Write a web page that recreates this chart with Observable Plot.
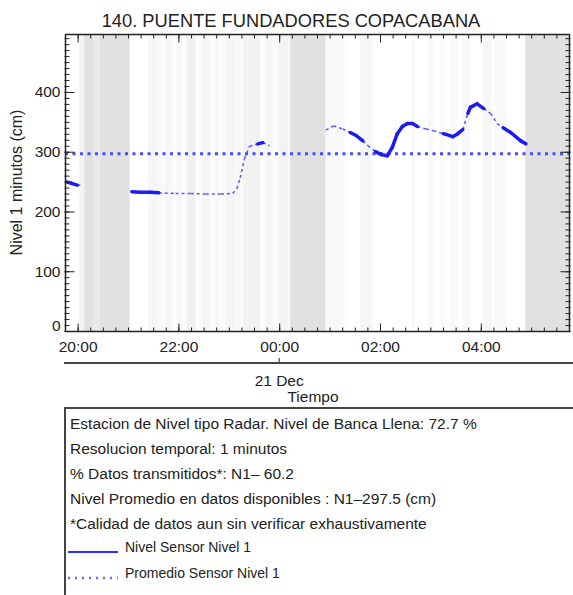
<!DOCTYPE html>
<html><head><meta charset="utf-8">
<script src="https://cdn.jsdelivr.net/npm/d3@7"></script>
<script src="https://cdn.jsdelivr.net/npm/@observablehq/plot@0.6"></script>
<style>
body{margin:0;background:#fff;font-family:"Liberation Sans",Arial,Helvetica,sans-serif;}
#wrap{position:relative;width:573px;height:595px;overflow:hidden;background:#fff;}
#chart{position:absolute;left:0;top:0;}
#legend{position:absolute;left:0;top:0;}
</style></head><body>
<div id="wrap"><div id="chart"></div><svg id="legend" width="573" height="595"></svg></div>
<script>
const titleText = "140. PUENTE FUNDADORES COPACABANA";
const yLabel = "Nivel 1 minutos (cm)";
const xTitle = "Tiempo";
const dateLabel = "21 Dec";
const dateTick = "2023-12-21 00:00";
const xDomain = ["2023-12-20 19:45", "2023-12-21 05:45"];
const yDomain = [0, 497];
const yTickValues = [0, 100, 200, 300, 400];
const xTickTimes = ["2023-12-20 20:00", "2023-12-20 22:00", "2023-12-21 00:00", "2023-12-21 02:00", "2023-12-21 04:00"];
const avgLevel = 297.5;

// observed level (cm); density: 2 = continuous data, 1 = sparse data, 0 = gap follows
const obsTime = [
  "2023-12-20 19:47","2023-12-20 19:52","2023-12-20 19:59","2023-12-20 20:05",
  "2023-12-20 21:04","2023-12-20 21:14","2023-12-20 21:26","2023-12-20 21:36","2023-12-20 21:56",
  "2023-12-20 22:14","2023-12-20 22:32","2023-12-20 22:50","2023-12-20 23:04","2023-12-20 23:09",
  "2023-12-20 23:13","2023-12-20 23:18","2023-12-20 23:24","2023-12-20 23:34","2023-12-20 23:40","2023-12-20 23:48",
  "2023-12-21 00:55","2023-12-21 01:04","2023-12-21 01:15","2023-12-21 01:24","2023-12-21 01:31",
  "2023-12-21 01:39","2023-12-21 01:45","2023-12-21 01:54","2023-12-21 02:01","2023-12-21 02:08",
  "2023-12-21 02:14","2023-12-21 02:20","2023-12-21 02:26","2023-12-21 02:32","2023-12-21 02:38",
  "2023-12-21 02:44","2023-12-21 02:54","2023-12-21 03:03","2023-12-21 03:15","2023-12-21 03:26",
  "2023-12-21 03:32","2023-12-21 03:38","2023-12-21 03:44","2023-12-21 03:47","2023-12-21 03:55",
  "2023-12-21 04:03","2023-12-21 04:11","2023-12-21 04:19","2023-12-21 04:26","2023-12-21 04:35",
  "2023-12-21 04:47","2023-12-21 04:53"
];
const obsLevel = [
  250,248,245,245,
  234,233,233,232,231,
  231,230,230,231,239,
  257,289,310,314,316,311,
  337,344,339,333,328,
  319,311,301,296,294,
  308,331,343,348,348,
  343,339,336,331,326,
  331,338,365,375,381,
  373,365,348,341,333,
  319,314
];
const obsDensity = [
  2,2,1,0,
  2,2,2,1,1,
  1,1,1,1,1,
  1,1,1,2,1,0,
  1,1,1,2,2,
  1,1,2,2,2,
  2,2,2,2,2,
  1,1,1,2,2,
  2,1,2,2,2,
  1,1,1,2,2,
  2,0
];

// periods with missing transmissions; frac = share of minutes missing
const gapStart = [
  "2023-12-20 20:08","2023-12-20 20:19","2023-12-20 20:26","2023-12-21 00:13","2023-12-21 04:53",
  "2023-12-20 20:02","2023-12-20 21:24","2023-12-20 21:24","2023-12-20 21:37","2023-12-20 21:44",
  "2023-12-20 21:58","2023-12-20 22:10","2023-12-20 22:28","2023-12-20 22:44","2023-12-20 22:56",
  "2023-12-20 23:06","2023-12-20 23:17","2023-12-20 23:43","2023-12-20 23:59","2023-12-21 00:55",
  "2023-12-21 01:12","2023-12-21 01:36","2023-12-21 02:38","2023-12-21 02:57","2023-12-21 03:11",
  "2023-12-21 03:23","2023-12-21 03:38","2023-12-21 04:03","2023-12-21 04:15","2023-12-21 04:23"
];
const gapEnd = [
  "2023-12-20 20:19","2023-12-20 20:26","2023-12-20 21:02","2023-12-21 00:55","2023-12-21 05:45",
  "2023-12-20 20:08","2023-12-21 00:13","2023-12-20 21:36","2023-12-20 21:41","2023-12-20 21:52",
  "2023-12-20 22:04","2023-12-20 22:20","2023-12-20 22:37","2023-12-20 22:48","2023-12-20 23:06",
  "2023-12-20 23:14","2023-12-20 23:37","2023-12-20 23:52","2023-12-21 00:11","2023-12-21 01:13",
  "2023-12-21 01:18","2023-12-21 01:51","2023-12-21 02:42","2023-12-21 03:03","2023-12-21 03:17",
  "2023-12-21 03:32","2023-12-21 03:47","2023-12-21 04:13","2023-12-21 04:23","2023-12-21 04:31"
];
const gapFrac = [
  1,0.75,1,1,1,
  0.4,0.12,0.3,0.25,0.35,
  0.3,0.5,0.35,0.3,0.35,
  0.25,0.45,0.3,0.4,0.25,
  0.2,0.3,0.2,0.25,0.2,
  0.2,0.25,0.3,0.2,0.2
];

const infoLines = [
  "Estacion de Nivel tipo Radar. Nivel de Banca Llena: 72.7 %",
  "Resolucion temporal: 1 minutos",
  "% Datos transmitidos*: N1\u2013 60.2",
  "Nivel Promedio en datos disponibles : N1\u2013297.5 (cm)",
  "*Calidad de datos aun sin verificar exhaustivamente"
];
const legendLabels = ["Nivel Sensor Nivel 1", "Promedio Sensor Nivel 1"];

const FONT = "'Liberation Sans', Arial, Helvetica, sans-serif";
const parse = d3.utcParse("%Y-%m-%d %H:%M");
const obs = obsTime.map((t, i) => ({t: parse(t), v: obsLevel[i], d: obsDensity[i]}));
const segs = [];
for (let i = 0; i < obs.length - 1; i++) {
  if (obs[i].d > 0) segs.push({t1: obs[i].t, v1: obs[i].v, t2: obs[i + 1].t, v2: obs[i + 1].v, d: obs[i].d});
}
const grayOf = d3.interpolateRgb("#ffffff", "#e1e1e1");
const gaps = gapStart.map((s, i) => ({s: parse(s), e: parse(gapEnd[i]), f: gapFrac[i]}))
  .sort((a, b) => a.f - b.f);
const xTicks = xTickTimes.map(parse);
const minor15 = d3.utcMinute.every(15);
const major2h = d3.utcHour.every(2);
const yMinor = d3.range(yDomain[0], yDomain[1], 10);
const yMajor = yTickValues;

// inward-pointing ticks (Plot's axis ticks shifted inside the frame)
const inX = (anchor, ticks, len) => Plot.axisX({anchor, ticks, tickSize: len, fill: "none", label: null, stroke: "#222",
  dy: anchor === "bottom" ? -len + 0.5 : len - 0.5});
const inY = (anchor, ticks, len) => Plot.axisY({anchor, ticks, tickSize: len, fill: "none", label: null, stroke: "#222",
  dx: anchor === "left" ? len - 0.5 : -len + 0.5});

const chart = Plot.plot({
  width: 573,
  height: 408,
  marginLeft: 65,
  marginRight: 4,
  marginTop: 34,
  marginBottom: 77,
  style: {fontFamily: FONT, color: "#222", background: "transparent", overflow: "visible"},
  x: {type: "utc", domain: xDomain.map(parse)},
  y: {domain: yDomain},
  marks: [
    Plot.rect(gaps, {x1: "s", x2: "e", y1: yDomain[0], y2: yDomain[1], fill: d => grayOf(d.f)}),
    Plot.ruleY([avgLevel], {stroke: "#4a4aff", strokeWidth: 3, strokeDasharray: "3,4.5"}),
    Plot.link(segs.filter(s => s.d === 1), {x1: "t1", y1: "v1", x2: "t2", y2: "v2", stroke: "#5c5cff", strokeWidth: 1.6, strokeDasharray: "3,3"}),
    Plot.link(segs.filter(s => s.d === 2), {x1: "t1", y1: "v1", x2: "t2", y2: "v2", stroke: "#1c1cf2", strokeWidth: 3.5, strokeLinecap: "round"}),
    Plot.frame({stroke: "#222", strokeWidth: 1.5}),
    inX("bottom", minor15, 4),
    inX("bottom", major2h, 8),
    inX("top", minor15, 4),
    inX("top", major2h, 8),
    inY("left", yMinor, 5),
    inY("left", yMajor, 10),
    inY("right", yMinor, 5),
    inY("right", yMajor, 10),
    Plot.axisX(xTicks, {tickSize: 0, tickPadding: 9, tickFormat: d3.utcFormat("%H:%M"), fontSize: 15.5, label: null, fill: "#222"}),
    Plot.axisY(yMajor.filter(v => v > 0), {tickSize: 0, tickPadding: 5, fontSize: 15.5, label: null, fill: "#222"}),
    Plot.axisY(yMajor.filter(v => v === 0), {tickSize: 0, tickPadding: 5, fontSize: 15.5, label: null, fill: "#222", dy: -5})
  ]
});
document.getElementById("chart").appendChild(chart);

const xs = chart.scale("x");
const svg = d3.select(chart);
svg.append("text").attr("x", 291).attr("y", 26.5).attr("text-anchor", "middle")
  .attr("font-size", 18.3).attr("fill", "#222").text(titleText);
svg.append("text").attr("transform", "translate(21.5,182.5) rotate(-90)").attr("text-anchor", "middle")
  .attr("font-size", 16).attr("fill", "#222").text(yLabel);
svg.append("line").attr("x1", 64).attr("x2", 573).attr("y1", 363).attr("y2", 363)
  .attr("stroke", "#444").attr("stroke-width", 2);
const xd = xs.apply(parse(dateTick));
svg.append("line").attr("x1", xd).attr("x2", xd).attr("y1", 358).attr("y2", 363)
  .attr("stroke", "#444").attr("stroke-width", 1.2);
svg.append("text").attr("x", xd).attr("y", 385.5).attr("text-anchor", "middle")
  .attr("font-size", 15.5).attr("fill", "#222").text(dateLabel);
svg.append("text").attr("x", 313).attr("y", 402).attr("text-anchor", "middle")
  .attr("font-size", 15.5).attr("fill", "#222").text(xTitle);

const lg = d3.select("#legend").style("font-family", FONT);
lg.append("rect").attr("x", 65).attr("y", 408).attr("width", 540).attr("height", 240)
  .attr("fill", "none").attr("stroke", "#444").attr("stroke-width", 2);
infoLines.forEach((t, i) => {
  lg.append("text").attr("x", 70).attr("y", 428.5 + i * 25).attr("font-size", 15.5)
    .attr("fill", "#222").text(t);
});
lg.append("line").attr("x1", 68).attr("x2", 118).attr("y1", 552).attr("y2", 552)
  .attr("stroke", "#2f2fff").attr("stroke-width", 2);
lg.append("line").attr("x1", 68).attr("x2", 118).attr("y1", 578).attr("y2", 578)
  .attr("stroke", "#6a6aff").attr("stroke-width", 2.5).attr("stroke-dasharray", "2,5");
legendLabels.forEach((t, i) => {
  lg.append("text").attr("x", 125).attr("y", 551.5 + i * 26.5).attr("font-size", 14)
    .attr("fill", "#222").text(t);
});
</script>
</body></html>
